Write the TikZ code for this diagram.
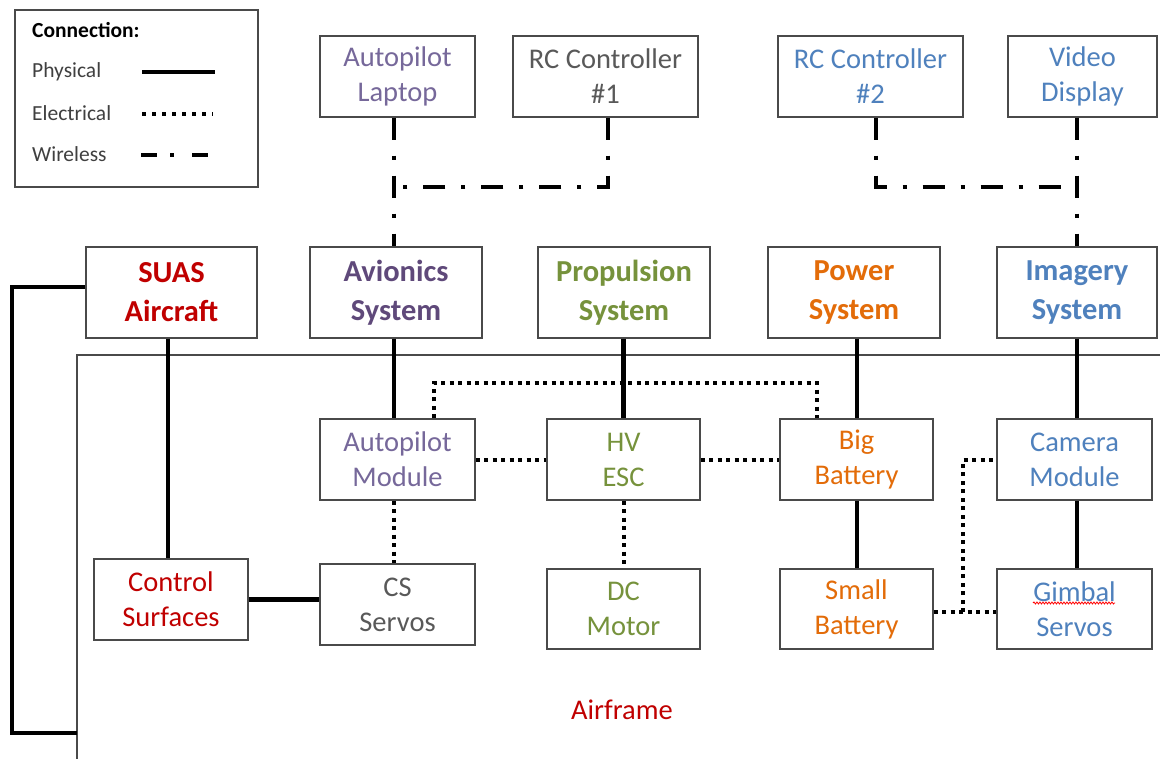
\documentclass[tikz,border=0pt]{standalone}
\usepackage{fontspec}
\setmainfont{Carlito}
\usepackage{xcolor}
\usepackage{tikz}
\usetikzlibrary{positioning,decorations.pathmorphing}
\definecolor{suasred}{HTML}{C00000}
\definecolor{aviocol}{HTML}{5F497A}
\definecolor{lapcol}{HTML}{76689A}
\definecolor{graytxt}{HTML}{595959}
\definecolor{propcol}{HTML}{76923C}
\definecolor{powcol}{HTML}{E36C09}
\definecolor{imgcol}{HTML}{4F81BD}
\definecolor{boxline}{HTML}{4A4A4A}

\begin{document}
\begin{tikzpicture}
            [
            x=1pt,y=-1pt,
            dims/.style 2 args={minimum width=#1pt,minimum height=#2pt},
            box/.style={draw=boxline,line width=1.4pt,align=center,inner sep=0pt,
                font=\fontsize{28.5}{35}\selectfont},
            sysbox/.style={box,font=\fontsize{30.5}{39}\selectfont\bfseries},
            legtext/.style={anchor=west,inner sep=0pt,text=black!75,font=\fontsize{21.5}{24}\selectfont},
            frame/.style={draw=boxline,line width=1.4pt},
            phys/.style={line width=4.5pt},
            elec/.style={line width=4pt,dash pattern=on 4pt off 4.5pt},
            wireless/.style={line width=4pt,dash pattern=on 22pt off 16pt on 4pt off 16pt}
            ]
        \useasboundingbox[fill=white] (0,0) rectangle (1160,759);
        \draw[frame] (77,759) -- (77,355) -- (1160,355);
        \node[box,dims={243}{177}] (legend) at (136.5,98.5) {};
        \node[legtext,text=black,font=\fontsize{21.5}{24}\selectfont\bfseries] (conn) at (32,30) {Connection:};
        \node[legtext] (lphys) at (32,72) {Physical};
        \node[legtext] (lelec) at (32,113) {Electrical};
        \node[legtext] (lwire) at (32,154) {Wireless};
        \draw[phys] (142,72) -- (215,72);
        \draw[elec,dash pattern=on 4pt off 6pt] (142,114) -- (213,114);
        \draw[wireless,dash pattern=on 16pt off 13pt on 4pt off 18pt] (141,155) -- (214,155);
        \node[box,dims={155}{81},text=lapcol] (laptop) at (397.5,76.5) {Autopilot\\Laptop};
        \node[box,dims={185}{81},text=graytxt] (rc1) at (605.5,76.5) {RC Controller\\\#1};
        \node[box,dims={185}{81},text=imgcol] (rc2) at (870.5,76.5) {RC Controller\\\#2};
        \node[box,dims={149}{81},text=imgcol] (video) at (1082.5,76.5) {Video\\Display};
        \node[sysbox,dims={171}{91},text=suasred] (suas) at (171.5,292.5) {SUAS\\Aircraft};
        \node[sysbox,dims={172}{91},text=aviocol] (avionics) at (396,292.5) {Avionics\\System};
        \node[sysbox,dims={172}{91},text=propcol] (propulsion) at (624,292.5) {Propulsion\\System};
        \node[sysbox,dims={172}{91},text=powcol] (power) at (854,292.5) {Power\\System};
        \node[sysbox,dims={160}{91},text=imgcol] (imagery) at (1077,292.5) {Imagery\\System};
        \node[box,dims={155}{81},text=lapcol] (apmod) at (397.5,459.5) {Autopilot\\Module};
        \node[box,dims={153}{81},text=propcol] (esc) at (623.5,459.5) {HV\\ESC};
        \node[box,dims={153}{81},text=powcol] (bigbat) at (856.5,459.5) {Big\\Battery};
        \node[box,dims={155}{81},text=imgcol] (camera) at (1074.5,459.5) {Camera\\Module};
        \node[box,dims={154}{81},text=suasred] (ctrl) at (171,599.5) {Control\\Surfaces};
        \node[box,dims={155}{81},text=graytxt] (servo) at (397.5,604.5) {CS\\Servos};
        \node[box,dims={153}{80},text=propcol] (motor) at (623.5,609) {DC\\Motor};
        \node[box,dims={153}{80},text=powcol] (smallbat) at (856.5,609) {Small\\Battery};
        \node[box,dims={155}{80},text=imgcol] (gimbal) at (1074.5,609) {Gimbal\\Servos};
        \node[text=suasred,font=\fontsize{28.5}{35}\selectfont] (airframe) at (622,710) {Airframe};
        \draw[red,line width=0.8pt,decorate,decoration={snake,amplitude=1pt,segment length=3pt}]
            (1033,603) -- (1115,603);
        \coordinate (suasx) at (168,0);
        \coordinate (aviox) at (394,0);
        \coordinate (powx) at (857,0);
        \coordinate (imgx) at (1077,0);
        \coordinate (wa) at (394,187);
        \coordinate (wb) at (1077,187);
        \coordinate (ebus) at (0,383);
        \coordinate (ej) at (963,612);
        \coordinate (loopa) at (12,287);
        \coordinate (loopb) at (12,733);
        \draw[wireless] (laptop.south -| aviox) -- (avionics.north -| aviox);
        \draw[wireless] ([xshift=2.5pt]rc1.south) |- (wa);
        \draw[wireless] (video.south -| imgx) -- (imagery.north -| imgx);
        \draw[wireless] ([xshift=5.5pt]rc2.south) |- (wb);
        \draw[phys] (suas.west |- loopa) -- (loopa) -- (loopb) -- (loopb -| 77,0);
        \draw[phys] (suas.south -| suasx) -- (ctrl.north -| suasx);
        \draw[phys] (avionics.south -| aviox) -- (apmod.north -| aviox);
        \draw[phys] (propulsion.south -| esc.north) -- (esc.north);
        \draw[phys] (power.south -| powx) -- (bigbat.north -| powx);
        \draw[phys] (imagery.south -| imgx) -- (camera.north -| imgx);
        \draw[phys] (bigbat.south -| powx) -- (smallbat.north -| powx);
        \draw[phys] (camera.south -| imgx) -- (gimbal.north -| imgx);
        \draw[phys] (ctrl.east) -- (ctrl.east -| servo.west);
        \draw[elec] ([xshift=36.5pt]apmod.north) |- ([xshift=-39.5pt]bigbat.north |- ebus) -- ([xshift=-39.5pt]bigbat.north);
        \draw[elec] (apmod.east) -- (esc.west);
        \draw[elec] (esc.east) -- (bigbat.west);
        \draw[elec] (apmod.south -| aviox) -- (servo.north -| aviox);
        \draw[elec] (esc.south) -- (motor.north);
        \draw[elec] (smallbat.east |- ej) -- (gimbal.west |- ej);
        \draw[elec] (ej) |- (camera.west);
        \end{tikzpicture}
\end{document}
